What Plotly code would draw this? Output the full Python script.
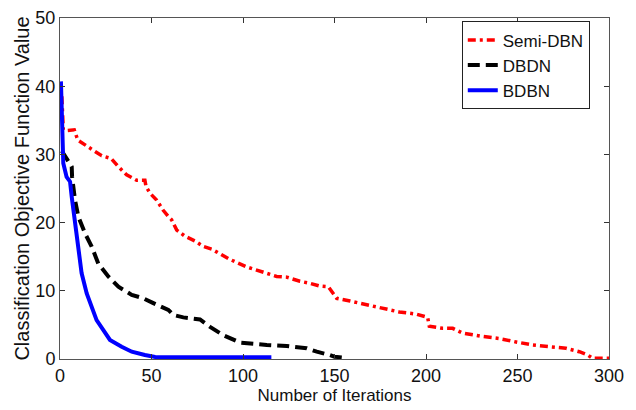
import plotly.graph_objects as go

# Semi-DBN
semi_x = [1, 1.8, 3.6, 7.8, 9.7, 15.5, 18.2, 22.8, 27.9, 31.9, 36.4, 41.9, 46.4, 47, 49.2, 52.8,
          56.4, 59.2, 61, 63.8, 68.3, 73.8, 78.3, 82.9, 87.4, 92.9, 102, 113, 118.4, 123.9, 131.1,
          136.6, 142, 146.6, 149.4, 151.2, 158.5, 172.7, 185.4, 194.5, 200.9, 201.8, 209.1, 214.6,
          220, 231, 240, 249.2, 258.3, 267.4, 276.5, 283.8, 288.3, 291, 300]
semi_y = [38.5, 33.6, 33.5, 33.6, 32.1, 31.0, 30.6, 29.8, 29.4, 28.2, 27.0, 26.2, 26.2, 25.3, 24.3, 23.3,
          21.8, 20.9, 20.4, 18.9, 18.0, 17.3, 16.5, 16.1, 15.4, 14.6, 13.5, 12.6, 12.1, 12.0, 11.4,
          11.1, 10.7, 10.6, 9.6, 8.9, 8.5, 7.6, 6.9, 6.6, 6.1, 4.8, 4.5, 4.5,
          3.8, 3.3, 3.0, 2.5, 2.05, 1.8, 1.57, 1.07, 0.59, 0.1, 0.1]

# DBDN
dbdn_x = [1, 3.6, 6.4, 6.6, 8.2, 10, 13.7, 17.3, 20.9, 26.4, 31.9, 39.2, 45.5, 51, 59.2, 62, 67.4,
          76.5, 82, 89.2, 98.4, 113, 123.9, 134.8, 140.3, 147.2, 150, 157.2]
dbdn_y = [30.5, 29.4, 28.2, 26.7, 23.3, 20.9, 18.4, 16.5, 14.0, 12.1, 10.6, 9.4, 8.9, 8.2, 7.2, 6.45, 6.1,
          5.8, 4.7, 3.5, 2.4, 2.05, 1.9, 1.57, 1.07, 0.6, 0.34, 0.15]

# BDBN
bdbn_x = [0.5, 1.1, 1.8, 3.6, 5.5, 6.4, 7.3, 9.1, 11.8, 14.6, 17.3, 20, 23.7, 27.3, 33.7, 39.2, 46.4,
          52, 80, 115.5]
bdbn_y = [40.7, 32.1, 28.7, 26.7, 26.0, 23.8, 21.8, 17.4, 12.6, 9.6, 7.7, 5.7, 4.25, 2.8, 1.8, 1.07, 0.59,
          0.3, 0.25, 0.25]

x_ticks = [0, 50, 100, 150, 200, 250, 300]
y_ticks = [0, 10, 20, 30, 40, 50]

font_family = "Liberation Sans, Arial, sans-serif"

fig = go.Figure()
fig.add_trace(go.Scatter(x=semi_x, y=semi_y, mode="lines", name="Semi-DBN",
                         line=dict(color="#ff0000", width=3.5, dash="8px,4px,3px,4px")))
fig.add_trace(go.Scatter(x=dbdn_x, y=dbdn_y, mode="lines", name="DBDN",
                         line=dict(color="#000000", width=4, dash="12px,6px")))
fig.add_trace(go.Scatter(x=bdbn_x, y=bdbn_y, mode="lines", name="BDBN",
                         line=dict(color="#0000ff", width=4)))

axis_common = dict(showgrid=False, zeroline=False, showline=True, linecolor="#555555", linewidth=1,
                   mirror="ticks", ticks="inside", ticklen=5, tickcolor="#333333", automargin=False,
                   tickfont=dict(family=font_family, size=18, color="#111111"))

# page body has an 8px margin, so the figure is sized 628x402
fig.update_layout(
    width=628, height=402,
    margin=dict(l=52, r=27, t=10, b=51),
    paper_bgcolor="white", plot_bgcolor="white",
    font=dict(family=font_family, color="#111111"),
    xaxis=dict(range=[0, 300], tickvals=x_ticks, ticktext=[str(v) for v in x_ticks],
               title=dict(text="Number of Iterations", font=dict(size=17), standoff=4), **axis_common),
    yaxis=dict(range=[0, 50], tickvals=y_ticks, ticktext=[str(v) for v in y_ticks],
               title=dict(text="Classification Objective Function Value", font=dict(size=20), standoff=0),
               **axis_common),
    legend=dict(x=0.965, y=0.99, xanchor="right", yanchor="top", bgcolor="white",
                bordercolor="#222222", borderwidth=1, font=dict(size=17, family=font_family),
                itemwidth=30, tracegroupgap=0),
    showlegend=True,
)

fig.write_html("out.html")
